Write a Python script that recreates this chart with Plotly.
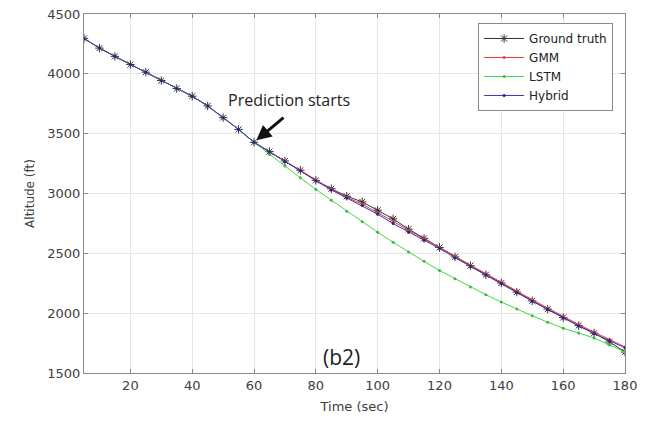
import plotly.graph_objects as go

time_sec = list(range(5, 185, 5))
ground_truth = [4296, 4215, 4146, 4078, 4014, 3944, 3877, 3813, 3732, 3634, 3536, 3428,
                3350, 3272, 3194, 3110, 3040, 2977, 2930, 2860, 2788, 2702, 2625, 2549,
                2470, 2397, 2321, 2252, 2176, 2103, 2034, 1963, 1896, 1833, 1760, 1675]
gmm = [4296, 4215, 4146, 4078, 4014, 3944, 3877, 3813, 3732, 3634, 3536, 3428,
       3350, 3272, 3195, 3110, 3036, 2968, 2910, 2840, 2765, 2690, 2620, 2550,
       2474, 2402, 2330, 2260, 2185, 2112, 2042, 1972, 1905, 1842, 1780, 1718]
lstm = [4296, 4215, 4146, 4078, 4014, 3944, 3877, 3813, 3732, 3634, 3536, 3428,
        3327, 3229, 3131, 3034, 2944, 2852, 2763, 2676, 2592, 2511, 2433, 2357,
        2288, 2218, 2154, 2093, 2034, 1978, 1925, 1874, 1835, 1792, 1735, 1675]
hybrid = [4296, 4215, 4146, 4078, 4014, 3944, 3877, 3813, 3732, 3634, 3536, 3428,
          3346, 3268, 3190, 3106, 3030, 2962, 2900, 2827, 2749, 2676, 2610, 2540,
          2463, 2390, 2318, 2248, 2172, 2100, 2030, 1960, 1893, 1830, 1770, 1710]

x_ticks = [20, 40, 60, 80, 100, 120, 140, 160, 180]
y_ticks = [1500, 2000, 2500, 3000, 3500, 4000, 4500]

TXT = "#404040"
FONT = "DejaVu Sans"

fig = go.Figure()
fig.add_trace(go.Scatter(x=time_sec, y=ground_truth, name="Ground truth", mode="lines+markers",
                         line=dict(color="#333333", width=1),
                         marker=dict(symbol="asterisk-open", size=7, color="#333333",
                                     line=dict(color="#333333", width=1))))
fig.add_trace(go.Scatter(x=time_sec, y=gmm, name="GMM", mode="lines+markers",
                         line=dict(color="#e8383d", width=1),
                         marker=dict(symbol="circle", size=3, color="#e8383d")))
fig.add_trace(go.Scatter(x=time_sec, y=lstm, name="LSTM", mode="lines+markers",
                         line=dict(color="#3fdc3f", width=1),
                         marker=dict(symbol="circle", size=3, color="#3fb83f")))
fig.add_trace(go.Scatter(x=time_sec, y=hybrid, name="Hybrid", mode="lines+markers",
                         line=dict(color="#3a3ab8", width=1),
                         marker=dict(symbol="circle", size=3, color="#22228a")))

axis_common = dict(showgrid=True, gridcolor="#e6e6e6", gridwidth=1, showline=True,
                   linecolor="#8a8a8a", linewidth=1, mirror="ticks", ticks="inside",
                   ticklen=4, tickcolor="#8a8a8a", zeroline=False, automargin=False,
                   tickfont=dict(family=FONT, size=13, color=TXT))

fig.update_xaxes(range=[5, 180], tickvals=x_ticks, **axis_common,
                 title=dict(text="Time (sec)", standoff=10,
                            font=dict(family=FONT, size=13, color=TXT)))
fig.update_yaxes(range=[1500, 4500], tickvals=y_ticks, **axis_common,
                 title=dict(text="Altitude (ft)", standoff=10,
                            font=dict(family=FONT, size=12, color=TXT)))

fig.add_annotation(x=60, y=3428, ax=31, ay=-26, axref="pixel", ayref="pixel",
                   xref="x", yref="y", text="", showarrow=True,
                   arrowhead=2, arrowsize=1, arrowwidth=3, arrowcolor="#111111", standoff=3)

fig.add_annotation(x=71.3, y=3779, xref="x", yref="y", text="Prediction starts", showarrow=False,
                   font=dict(family="Open Sans", size=16, color="#222222"))
fig.add_annotation(x=88.4, y=1634, xref="x", yref="y", text="(b2)", showarrow=False,
                   font=dict(family="Open Sans", size=21, color="#222222"))

fig.update_layout(
    width=653, height=421,
    margin=dict(l=84, r=28, t=14, b=48),
    plot_bgcolor="white", paper_bgcolor="white",
    showlegend=True,
    legend=dict(x=0.978, y=0.975, xanchor="right", yanchor="top",
                bgcolor="white", bordercolor="#888888", borderwidth=1,
                font=dict(family=FONT, size=12, color="#222222"),
                tracegroupgap=0, itemwidth=40),
)

fig.write_html("out.html")
